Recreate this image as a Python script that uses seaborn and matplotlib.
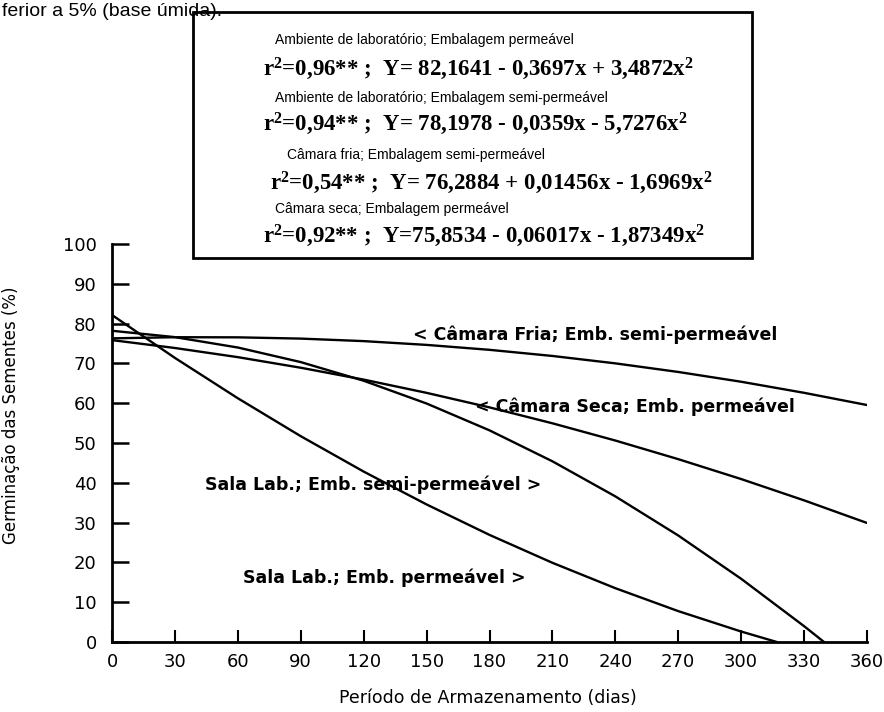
import numpy as np
import pandas as pd
import matplotlib
matplotlib.use("Agg")
import matplotlib.pyplot as plt
import seaborn as sns
from matplotlib.patches import Rectangle

# ---- data ----
x_ticks = [0, 30, 60, 90, 120, 150, 180, 210, 240, 270, 300, 330, 360]
y_ticks = [0, 10, 20, 30, 40, 50, 60, 70, 80, 90, 100]

dias_sala_perm = [0, 30, 60, 90, 120, 150, 180, 210, 240, 270, 300, 317]
germ_sala_perm = [82.16, 71.38, 61.24, 51.71, 42.82, 34.56, 26.91, 19.90, 13.52, 7.76, 2.63, 0.0]

dias_sala_semi = [0, 30, 60, 90, 120, 150, 180, 210, 240, 270, 300, 330, 339.5]
germ_sala_semi = [78.20, 76.60, 73.99, 70.33, 65.64, 59.92, 53.18, 45.40, 36.59, 26.76, 15.88, 3.98, 0.0]

dias_fria_semi = [0, 30, 60, 90, 120, 150, 180, 210, 240, 270, 300, 330, 360]
germ_fria_semi = [76.29, 76.58, 76.55, 76.23, 75.60, 74.65, 73.41, 71.87, 70.01, 67.85, 65.39, 62.61, 59.54]

dias_seca_perm = [0, 30, 60, 90, 120, 150, 180, 210, 240, 270, 300, 330, 360]
germ_seca_perm = [75.85, 73.87, 71.57, 68.91, 65.93, 62.60, 58.95, 54.95, 50.62, 45.94, 40.94, 35.59, 29.91]

curve_labels = [
    "< Câmara Fria; Emb. semi-permeável",
    "< Câmara Seca; Emb. permeável",
    "Sala Lab.; Emb. semi-permeável >",
    "Sala Lab.; Emb. permeável >",
]
label_pos = [(143.5, 77.1), (173, 59.0), (44.3, 39.4), (62.5, 16.1)]

box_lines = [
    "Ambiente de laboratório; Embalagem permeável",
    r"$\mathbf{r^2}$=0,96** ;  Y= 82,1641 - 0,3697x + 3,4872x$^\mathbf{2}$",
    "Ambiente de laboratório; Embalagem semi-permeável",
    r"$\mathbf{r^2}$=0,94** ;  Y= 78,1978 - 0,0359x - 5,7276x$^\mathbf{2}$",
    "Câmara fria; Embalagem semi-permeável",
    r"$\mathbf{r^2}$=0,54** ;  Y= 76,2884 + 0,01456x - 1,6969x$^\mathbf{2}$",
    "Câmara seca; Embalagem permeável",
    r"$\mathbf{r^2}$=0,92** ;  Y=75,8534 - 0,06017x - 1,87349x$^\mathbf{2}$",
]
x_label = "Período de Armazenamento (dias)"
y_label = "Germinação das Sementes (%)"
top_text = "ferior a 5% (base úmida)."

# ---- styling ----
sns.set_theme(style="white")
plt.rcParams["font.family"] = ["DejaVu Sans"]
plt.rcParams["mathtext.fontset"] = "custom"
plt.rcParams["mathtext.rm"] = "Liberation Serif:bold"
plt.rcParams["mathtext.it"] = "Liberation Serif:italic"
plt.rcParams["mathtext.bf"] = "Liberation Serif:bold"

W, H = 884, 712
fig = plt.figure(figsize=(W / 100, H / 100), dpi=100)
ax = fig.add_axes([112 / W, 70 / H, 755 / W, 398 / H])

series = [
    (dias_sala_perm, germ_sala_perm),
    (dias_sala_semi, germ_sala_semi),
    (dias_fria_semi, germ_fria_semi),
    (dias_seca_perm, germ_seca_perm),
]
for xs, ys in series:
    sns.lineplot(x=xs, y=ys, ax=ax, color="black", linewidth=1.7, sort=False)

ax.set_xlim(0, 360)
ax.set_ylim(0, 100)
ax.set_xticks(x_ticks)
ax.set_yticks(y_ticks)
ax.set_xticklabels([str(v) for v in x_ticks])
ax.set_yticklabels([str(v) for v in y_ticks])
for s in ["top", "right"]:
    ax.spines[s].set_visible(False)
for s in ["left", "bottom"]:
    ax.spines[s].set_linewidth(2.0)
    ax.spines[s].set_color("black")
ax.tick_params(axis="y", direction="in", length=12, width=1.8, pad=11,
               labelsize=13, colors="black", left=True)
ax.tick_params(axis="x", direction="in", length=9, width=1.5, pad=8,
               labelsize=13, colors="black", bottom=True)

ax.set_xlabel(x_label, fontsize=12.5, color="black")
ax.set_ylabel(y_label, fontsize=12, color="black")
ax.xaxis.set_label_coords(0.498, -0.118)
ax.yaxis.set_label_coords(-0.122, 0.570)

for txt, (lx, ly) in zip(curve_labels, label_pos):
    ax.text(lx, ly, txt, fontsize=12.5, fontweight="bold", ha="left", va="center",
            color="black")

# equations box
def fx(px):
    return px / W

def fy(py):
    return 1 - py / H

box = Rectangle((fx(193), fy(258)), fx(752) - fx(193), fy(12) - fy(258),
                transform=fig.transFigure, fill=False, edgecolor="black",
                linewidth=2.0)
fig.patches.append(box)

line_y = [40, 69, 98, 124, 155, 183, 209, 236]
line_x = [275, 263, 275, 263, 287, 270, 275, 263]
for i, (txt, px, py) in enumerate(zip(box_lines, line_x, line_y)):
    if i % 2 == 0:
        fig.text(fx(px), fy(py), txt, fontsize=10, family="Liberation Sans",
                 ha="left", va="center", color="black")
    else:
        fig.text(fx(px), fy(py), txt, fontsize=16.5, family="Liberation Serif",
                 fontweight="bold", ha="left", va="center", color="black")

fig.text(fx(2), fy(16), top_text, fontsize=14, family="Liberation Sans",
         ha="left", va="baseline", color="black")

fig.savefig("out.png", dpi=100, facecolor="white")
